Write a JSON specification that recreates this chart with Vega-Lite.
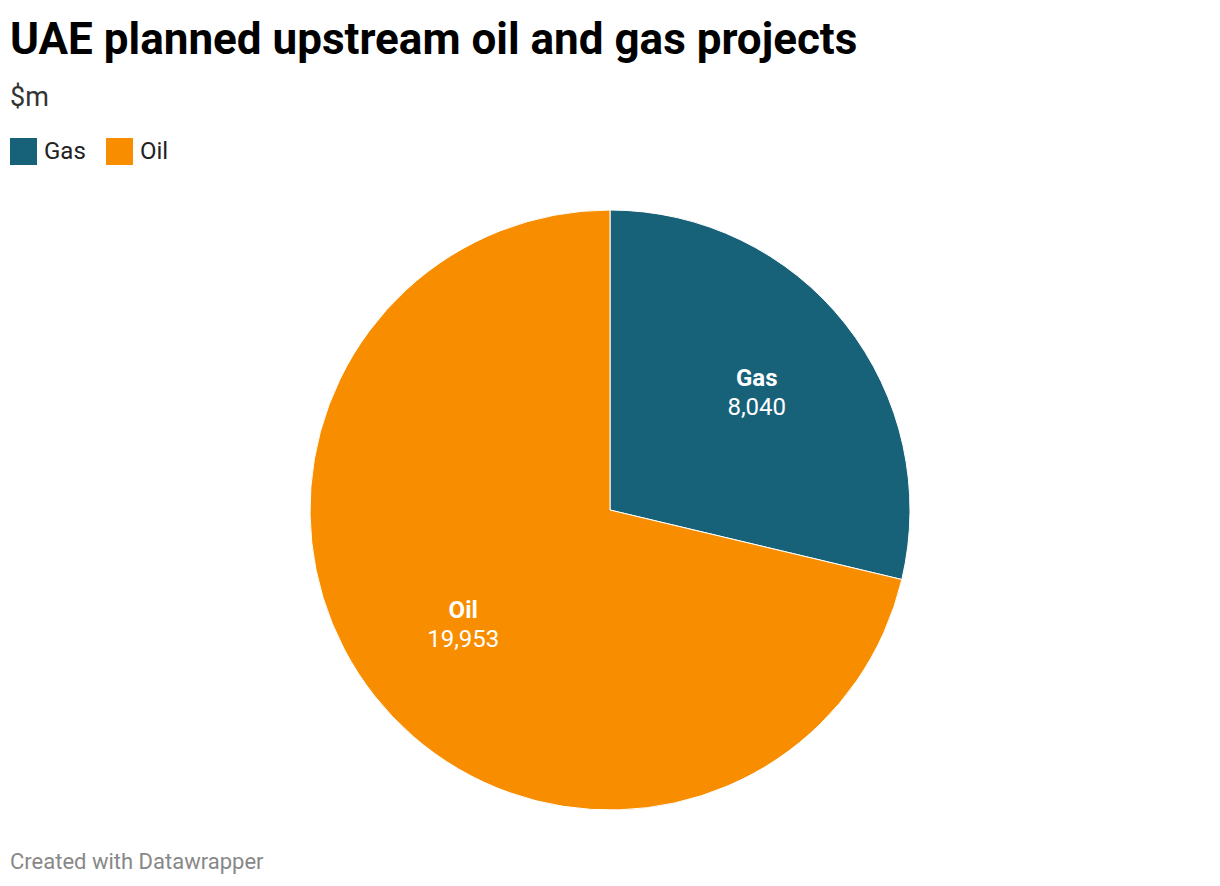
{
  "$schema": "https://vega.github.io/schema/vega-lite/v6.json",
  "width": 1200,
  "height": 632,
  "autosize": {"type": "none"},
  "padding": {"left": 10, "top": 194, "right": 10, "bottom": 60},
  "background": "white",
  "config": {"view": {"stroke": null}, "font": "Roboto"},
  "title": {
    "text": "UAE planned upstream oil and gas projects",
    "subtitle": "$m",
    "anchor": "start",
    "frame": "group",
    "font": "Roboto",
    "fontSize": 44,
    "fontWeight": "bold",
    "color": "#000000",
    "subtitleFont": "Roboto",
    "subtitleFontSize": 27,
    "subtitleColor": "#333333",
    "subtitlePadding": 22,
    "offset": 27
  },
  "data": {
    "values": [
      {"category": "Gas", "value": 8040},
      {"category": "Oil", "value": 19953}
    ]
  },
  "encoding": {
    "theta": {"field": "value", "type": "quantitative", "stack": true},
    "order": {"field": "category", "sort": "ascending"}
  },
  "layer": [
    {
      "mark": {"type": "arc", "outerRadius": 300, "stroke": "white", "strokeWidth": 1},
      "encoding": {
        "color": {
          "field": "category",
          "type": "nominal",
          "scale": {"domain": ["Gas", "Oil"], "range": ["#176179", "#f88d00"]},
          "legend": {
            "title": null,
            "orient": "none",
            "legendX": 0,
            "legendY": -56,
            "direction": "horizontal",
            "symbolType": "square",
            "symbolSize": 729,
            "symbolStrokeWidth": 0,
            "symbolOpacity": 1,
            "labelFont": "Roboto",
            "labelFontSize": 24,
            "labelColor": "#222222",
            "labelOffset": 7,
            "columnPadding": 20
          }
        }
      }
    },
    {
      "mark": {"type": "text", "radius": 187, "dy": -15, "font": "Roboto", "fontSize": 24, "fontWeight": "bold", "color": "white"},
      "encoding": {"text": {"field": "category", "type": "nominal"}}
    },
    {
      "mark": {"type": "text", "radius": 187, "dy": 14, "font": "Roboto", "fontSize": 24, "color": "white"},
      "encoding": {"text": {"field": "value", "type": "quantitative", "format": ",d"}}
    },
    {
      "data": {"values": [{"credit": "Created with Datawrapper"}]},
      "mark": {"type": "text", "align": "left", "baseline": "alphabetic", "font": "Roboto", "fontSize": 22, "color": "#888888", "x": 0, "y": {"expr": "height + 43"}},
      "encoding": {"text": {"field": "credit", "type": "nominal"}, "theta": null, "order": null}
    }
  ]
}
